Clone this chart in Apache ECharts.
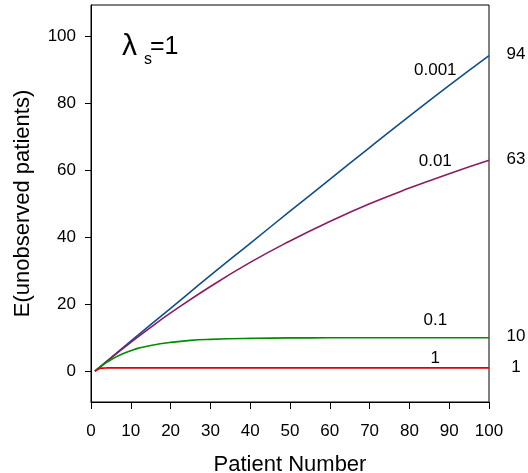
<!DOCTYPE html>
<html>
<head>
<meta charset="utf-8">
<script src="https://cdn.jsdelivr.net/npm/echarts@6/dist/echarts.min.js"></script>
<style>
  html, body { margin: 0; padding: 0; background: #fff; }
  #chart { width: 528px; height: 473px; }
</style>
</head>
<body>
<div id="chart"></div>
<script>
// values
const xTicks = [0, 10, 20, 30, 40, 50, 60, 70, 80, 90, 100];
const yTicks = [0, 20, 40, 60, 80, 100];

const xBlue = [1, 10, 20, 30, 40, 50, 60, 70, 80, 90, 100];
const yBlue = [0, 9, 18.8, 28.6, 38.2, 47.8, 57.3, 66.8, 76.2, 85.4, 94.3];

const xPurple = [1, 5, 10, 15, 20, 30, 40, 50, 60, 70, 80, 90, 100];
const yPurple = [0, 3.9, 8.6, 13.1, 17.4, 25.3, 32.5, 38.9, 44.7, 50.0, 54.7, 59.0, 63.0];

const xGreen = [1, 2, 3, 4, 5, 6, 8, 10, 12, 15, 20, 25, 30, 40, 50, 60, 70, 100];
const yGreen = [0, 1, 1.9, 2.7, 3.4, 4.1, 5.2, 6.1, 6.9, 7.7, 8.6, 9.2, 9.5, 9.8, 9.95, 9.98, 10, 10];

const xRed = [1, 2, 3, 4, 5, 100];
const yRed = [0, 0.75, 0.93, 0.98, 1, 1];

const curveNames = ["0.001", "0.01", "0.1", "1"];
const endValues = [94, 63, 10, 1];
const curveLabelX = 86.5;
const curveLabelY = [90, 62.7, 15.2, 3.8];

const font = "Liberation Sans, Arial, sans-serif";
const colors = ["#104E8B", "#8B1C62", "#008B00", "#E00000"];

const zip = (xs, ys) => xs.map((x, i) => [x, ys[i]]);
const seriesData = [zip(xBlue, yBlue), zip(xPurple, yPurple), zip(xGreen, yGreen), zip(xRed, yRed)];

const chart = echarts.init(document.getElementById("chart"));

chart.setOption({
  animation: false,
  grid: {
    left: 91,
    right: 39,
    top: 5,
    bottom: 71,
    show: true,
    borderColor: "#000",
    borderWidth: 1,
    containLabel: false,
    outerBoundsMode: "none",
  },
  xAxis: {
    type: "value",
    min: 0,
    max: 100,
    interval: 10,
    name: "Patient Number",
    nameLocation: "middle",
    nameGap: 52,
    nameTextStyle: { fontFamily: font, fontSize: 22, color: "#000" },
    axisLine: { show: true, onZero: false, lineStyle: { color: "#000", width: 1 } },
    axisTick: { show: true, inside: false, length: 7, lineStyle: { color: "#000" } },
    axisLabel: { fontFamily: font, fontSize: 17, color: "#000", margin: 21 },
    splitLine: { show: false },
  },
  yAxis: {
    type: "value",
    min: -9.2,
    max: 109.4,
    name: "E(unobserved patients)",
    nameLocation: "middle",
    nameGap: 57,
    nameTextStyle: { fontFamily: font, fontSize: 22, color: "#000" },
    axisLine: { show: true, onZero: false, lineStyle: { color: "#000", width: 1 } },
    axisTick: { show: true, inside: false, length: 6, customValues: yTicks, lineStyle: { color: "#000" } },
    axisLabel: { fontFamily: font, fontSize: 17, color: "#000", margin: 15, customValues: yTicks },
    splitLine: { show: false },
  },
  series: seriesData.map((d, i) => ({
    name: curveNames[i],
    type: "line",
    data: d,
    smooth: true,
    showSymbol: false,
    lineStyle: { color: colors[i], width: 1.6 },
    endLabel: {
      show: true,
      formatter: String(endValues[i]),
      fontFamily: font,
      fontSize: 17,
      color: "#000",
      align: "center",
      distance: 0,
      offset: [27, -1],
    },
    markPoint: {
      symbolSize: 0,
      data: [{ coord: [curveLabelX, curveLabelY[i]] }],
      label: {
        show: true,
        position: "inside",
        formatter: curveNames[i],
        fontFamily: font,
        fontSize: 17,
        color: "#000",
      },
    },
  })),
  graphic: [
    { type: "text", left: 122, top: 32, style: { text: "λ", font: "30px " + font, fill: "#000" } },
    { type: "text", left: 144, top: 52, style: { text: "s", font: "16px " + font, fill: "#000" } },
    { type: "text", left: 150, top: 35, style: { text: "=1", font: "25px " + font, fill: "#000" } },
  ],
});
</script>
</body>
</html>
